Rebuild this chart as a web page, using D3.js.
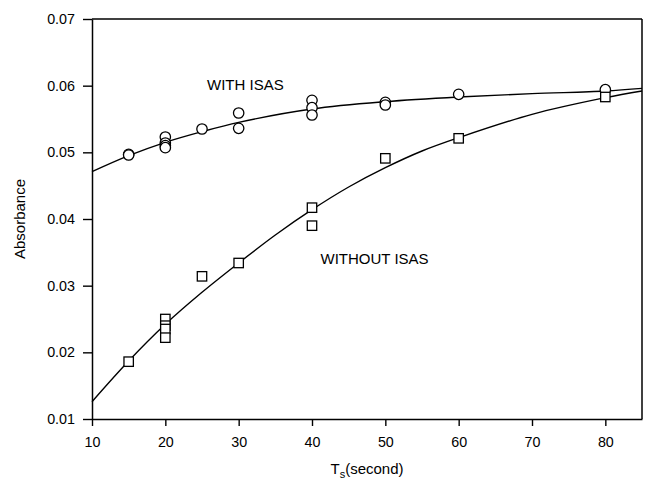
<!DOCTYPE html>
<html>
<head>
<meta charset="utf-8">
<script src="https://cdn.jsdelivr.net/npm/d3@7"></script>
<style>
  html, body { margin: 0; padding: 0; background: #fff; }
  svg { display: block; font-family: "Liberation Sans", Arial, sans-serif; }
</style>
</head>
<body>
<svg id="chart" width="646" height="484"></svg>
<script>
// ---- data ----
const withX = [15, 15, 20, 20, 20, 20, 25, 30, 30, 40, 40, 40, 50, 50, 60, 80];
const withY = [0.0497, 0.0496, 0.0523, 0.0514, 0.0510, 0.0507, 0.0535, 0.0559, 0.0536, 0.0578, 0.0567, 0.0556, 0.0575, 0.0571, 0.0587, 0.0594];

const withoutX = [15, 20, 20, 20, 20, 25, 30, 40, 40, 50, 60, 80];
const withoutY = [0.0186, 0.0250, 0.0240, 0.0235, 0.0222, 0.0314, 0.0334, 0.0417, 0.0390, 0.0491, 0.0521, 0.0583];

// fitted curves
const fitWithX = [10, 15, 20, 25, 30, 40, 50, 60, 70, 80, 85];
const fitWithY = [0.0471, 0.0495, 0.0515, 0.0531, 0.0545, 0.0565, 0.0576, 0.0583, 0.0588, 0.0592, 0.0596];

const fitWithoutX = [10, 15, 20, 25, 30, 35, 40, 45, 50, 55, 60, 70, 80, 85];
const fitWithoutY = [0.0126, 0.0187, 0.0242, 0.0290, 0.0334, 0.0376, 0.0414, 0.0448, 0.0477, 0.0502, 0.0522, 0.0557, 0.0582, 0.0592];

const xTicks = [10, 20, 30, 40, 50, 60, 70, 80];
const yTicks = [0.01, 0.02, 0.03, 0.04, 0.05, 0.06, 0.07];

// ---- layout ----
const svg = d3.select("#chart");
const L = 92, R = 642, T = 19, B = 419;

const x = d3.scaleLinear().domain([10, 85]).range([L, R]);
const y = d3.scaleLinear().domain([0.01, 0.07]).range([B, T]);

// axes
const xAxis = d3.axisBottom(x).tickValues(xTicks).tickSize(7).tickPadding(10.5)
  .tickFormat(d3.format("d")).tickSizeOuter(0);
const yAxis = d3.axisLeft(y).tickValues(yTicks).tickSize(9).tickPadding(8)
  .tickFormat(d3.format(".2f")).tickSizeOuter(0);

const gx = svg.append("g").attr("transform", `translate(0,${B})`).call(xAxis);
const gy = svg.append("g").attr("transform", `translate(${L},0)`).call(yAxis);

[gx, gy].forEach(g => {
  g.select(".domain").attr("stroke", "#000").attr("stroke-width", 1.5);
  g.selectAll(".tick line").attr("stroke", "#000").attr("stroke-width", 1.4);
  g.selectAll(".tick text").attr("fill", "#000").style("font-size", "14.3px")
    .style("font-family", "'Liberation Sans', Arial, sans-serif");
});

// frame (top and right)
svg.append("line").attr("x1", L).attr("x2", R).attr("y1", T).attr("y2", T)
  .attr("stroke", "#000").attr("stroke-width", 1.5);
svg.append("line").attr("x1", R).attr("x2", R).attr("y1", T).attr("y2", B)
  .attr("stroke", "#000").attr("stroke-width", 1.5);

// fitted curves
const line = d3.line().x(d => x(d[0])).y(d => y(d[1])).curve(d3.curveCatmullRom.alpha(0.5));
svg.append("path").datum(d3.zip(fitWithX, fitWithY)).attr("d", line)
  .attr("fill", "none").attr("stroke", "#000").attr("stroke-width", 1.4);
svg.append("path").datum(d3.zip(fitWithoutX, fitWithoutY)).attr("d", line)
  .attr("fill", "none").attr("stroke", "#000").attr("stroke-width", 1.4);

// markers
svg.append("g").selectAll("circle").data(d3.zip(withX, withY)).join("circle")
  .attr("cx", d => x(d[0])).attr("cy", d => y(d[1])).attr("r", 5.2)
  .attr("fill", "#fff").attr("stroke", "#000").attr("stroke-width", 1.3);

const s = 9.4;
svg.append("g").selectAll("rect").data(d3.zip(withoutX, withoutY)).join("rect")
  .attr("x", d => x(d[0]) - s / 2).attr("y", d => y(d[1]) - s / 2)
  .attr("width", s).attr("height", s)
  .attr("fill", "#fff").attr("stroke", "#000").attr("stroke-width", 1.3);

// annotations
svg.append("text").attr("x", 207).attr("y", 89.5).text("WITH ISAS")
  .style("font-size", "15px").attr("fill", "#000");
svg.append("text").attr("x", 320.5).attr("y", 264).text("WITHOUT ISAS")
  .style("font-size", "15px").attr("fill", "#000");

// axis titles
const xt = svg.append("text").attr("x", (L + R) / 2).attr("y", 474)
  .attr("text-anchor", "middle").style("font-size", "15px").attr("fill", "#000");
xt.append("tspan").text("T");
xt.append("tspan").attr("dy", 4).style("font-size", "11px").text("s");
xt.append("tspan").attr("dy", -4).text("(second)");

svg.append("text").attr("transform", `translate(25,${(T + B) / 2}) rotate(-90)`)
  .attr("text-anchor", "middle").style("font-size", "15px").attr("fill", "#000")
  .text("Absorbance");
</script>
</body>
</html>
